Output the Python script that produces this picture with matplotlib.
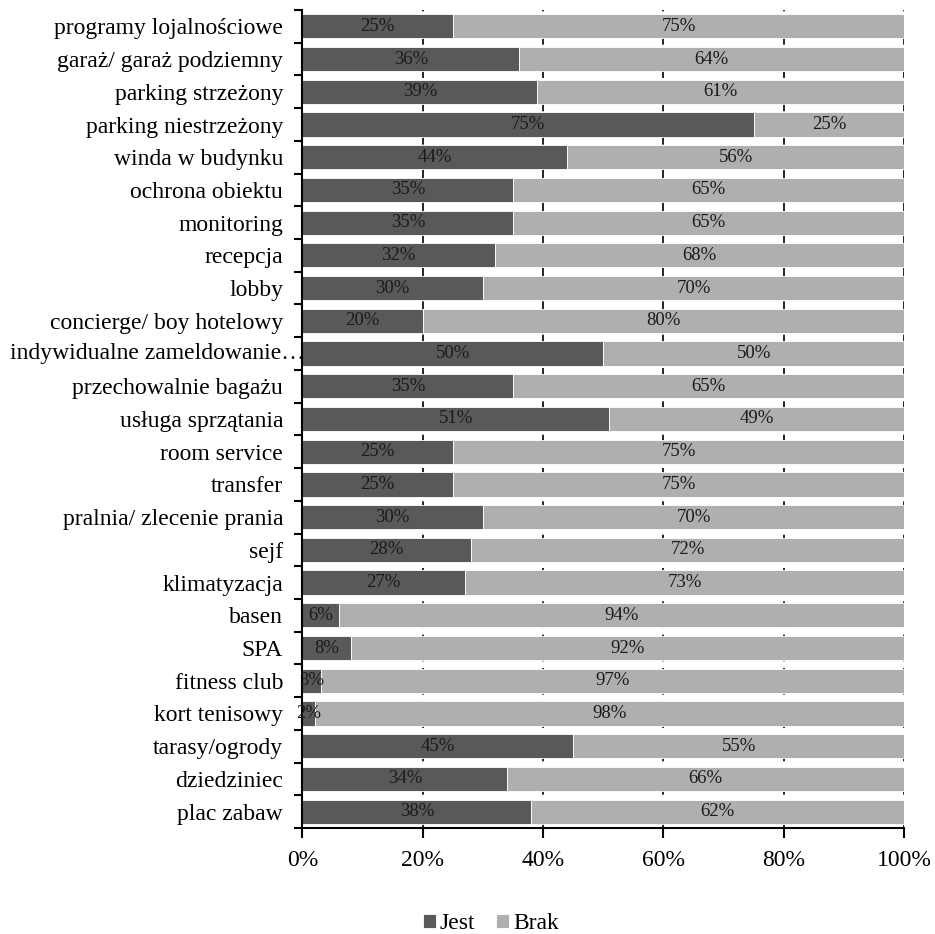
import numpy as np
import matplotlib.pyplot as plt
import matplotlib.transforms as mtransforms
from matplotlib.ticker import FixedLocator

plt.rcParams['font.family'] = ['Liberation Serif', 'DejaVu Serif']

kategorie = [
    'programy lojalnościowe', 'garaż/ garaż podziemny', 'parking strzeżony',
    'parking niestrzeżony', 'winda w budynku', 'ochrona obiektu', 'monitoring',
    'recepcja', 'lobby', 'concierge/ boy hotelowy', 'indywidualne zameldowanie…',
    'przechowalnie bagażu', 'usługa sprzątania', 'room service', 'transfer',
    'pralnia/ zlecenie prania', 'sejf', 'klimatyzacja', 'basen', 'SPA',
    'fitness club', 'kort tenisowy', 'tarasy/ogrody', 'dziedziniec', 'plac zabaw',
]
jest = [25, 36, 39, 75, 44, 35, 35, 32, 30, 20, 50, 35, 51, 25, 25, 30, 28, 27,
        6, 8, 3, 2, 45, 34, 38]
brak = [75, 64, 61, 25, 56, 65, 65, 68, 70, 80, 50, 65, 49, 75, 75, 70, 72, 73,
        94, 92, 97, 98, 55, 66, 62]
x_ticks = [0, 20, 40, 60, 80, 100]

c_jest = '#595959'
c_brak = '#afafaf'

fig = plt.figure(figsize=(9.35, 9.34), dpi=100)
ax = fig.add_axes([0.3235, 0.1135, 0.6435, 0.8758])

y = np.arange(len(kategorie))
h = 0.74
ax.barh(y, jest, height=h, color=c_jest, edgecolor='white', linewidth=0.6,
        label='Jest', zorder=2)
ax.barh(y, brak, left=jest, height=h, color=c_brak, edgecolor='white',
        linewidth=0.6, label='Brak', zorder=2)

for i in range(len(kategorie)):
    ax.text(jest[i] / 2, y[i], f'{jest[i]}%', ha='center', va='center',
            fontsize=13.5, color='#1a1a1a', zorder=3)
    ax.text(jest[i] + brak[i] / 2, y[i], f'{brak[i]}%', ha='center',
            va='center', fontsize=13.5, color='#1a1a1a', zorder=3)

ax.set_xlim(0, 100)
ax.set_ylim(len(kategorie) - 0.5, -0.5)
ax.set_xticks(x_ticks)
ax.set_xticklabels([f'{v}%' for v in x_ticks], fontsize=17)
ax.xaxis.grid(True, color='black', linestyle=(0, (6, 4)), linewidth=1.2,
              zorder=0)
ax.set_axisbelow(True)

# dlugi opis (obciety wielokropkiem) siega az do osi
dlugi = 'indywidualne zameldowanie…'
etykiety = ['' if k == dlugi else k for k in kategorie]
ax.set_yticks(y)
ax.set_yticklabels(etykiety, fontsize=17)
ax.tick_params(axis='y', which='major', length=0, pad=14)
trans = mtransforms.blended_transform_factory(ax.transAxes, ax.transData)
ax.text(0.004, kategorie.index(dlugi), dlugi, transform=trans, ha='right',
        va='center', fontsize=17)

ax.yaxis.set_minor_locator(FixedLocator(np.arange(-0.5, len(kategorie), 1)))
ax.tick_params(axis='y', which='minor', length=6, width=1.5)
ax.tick_params(axis='x', which='major', length=7, width=1.5, pad=9)

for s in ['top', 'right']:
    ax.spines[s].set_visible(False)
ax.spines['left'].set_linewidth(1.5)
ax.spines['bottom'].set_linewidth(1.5)

fig.legend(loc='center', bbox_to_anchor=(0.525, 0.011), ncol=2,
           frameon=False, fontsize=17, handlelength=0.55, handleheight=0.55,
           handletextpad=0.15, columnspacing=0.9, borderpad=0)

fig.savefig('out.png', dpi=100)
